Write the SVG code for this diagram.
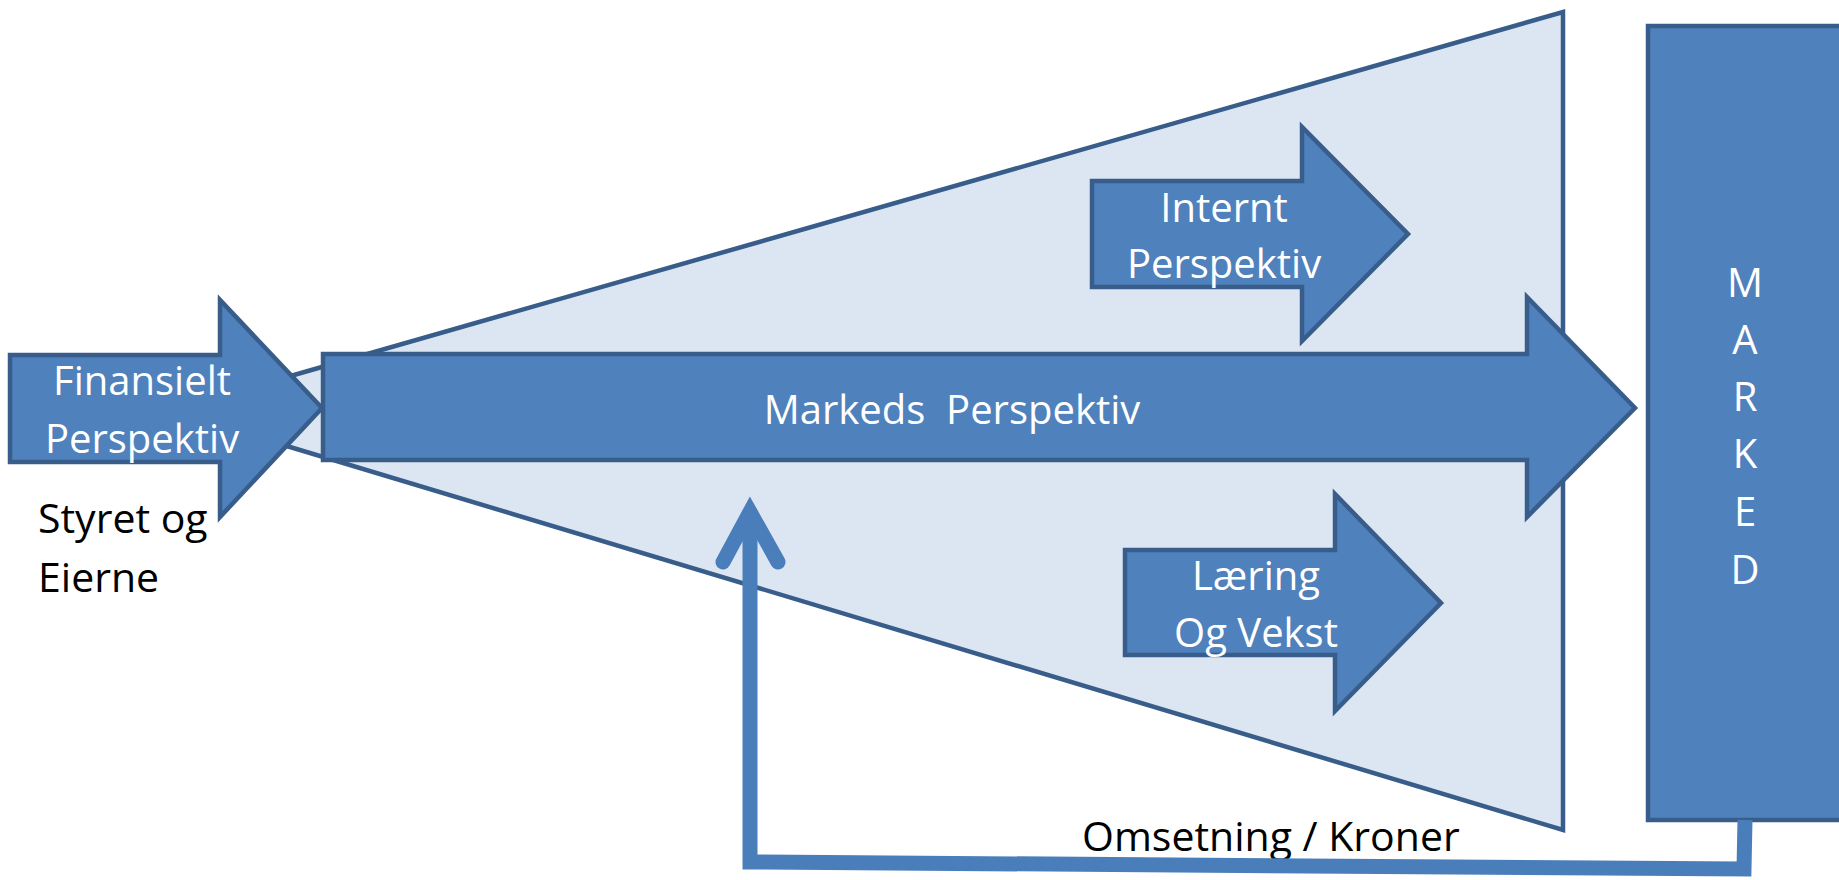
<svg xmlns="http://www.w3.org/2000/svg" width="1839" height="880" viewBox="0 0 1839 880">
<style>
.arrow{fill:#4f81bd;stroke:#385d8a;stroke-width:4.5;stroke-linejoin:miter}
.funnel{fill:#dce6f2;stroke:#385d8a;stroke-width:4.5;stroke-linejoin:miter}
.wt{font-family:"Open Sans","Liberation Sans",sans-serif;font-size:40px;fill:#ffffff;text-anchor:middle}
.bt{font-family:"Open Sans","Liberation Sans",sans-serif;font-size:41px;fill:#000000}
.fb{fill:none;stroke:#4a7ebb;stroke-width:15}
</style>
<g id="funnel">
<polygon class="funnel" points="280,379 1563,12 1563,830 280,444"/>
</g>
<g id="marked">
<rect class="arrow" x="1648" y="26" width="220" height="794"/>
<text class="wt" font-size="42" x="1745" y="297">M</text>
<text class="wt" font-size="42" x="1745" y="354">A</text>
<text class="wt" font-size="42" x="1745" y="411">R</text>
<text class="wt" font-size="42" x="1745" y="468">K</text>
<text class="wt" font-size="42" x="1745" y="526">E</text>
<text class="wt" font-size="42" x="1745" y="584">D</text>
</g>
<g id="internt">
<polygon class="arrow" points="1092,181 1302,181 1302,127 1408,234 1302,341 1302,287 1092,287"/>
<text class="wt" x="1224" y="222">Internt</text>
<text class="wt" x="1224" y="278">Perspektiv</text>
</g>
<g id="laering">
<polygon class="arrow" points="1125,550 1335,550 1335,494 1441,603 1335,711 1335,655 1125,655"/>
<text class="wt" x="1256" y="590">Læring</text>
<text class="wt" x="1256" y="647">Og Vekst</text>
</g>
<g id="markeds">
<polygon class="arrow" points="323,354 1527,354 1527,297 1635,408 1527,517 1527,460 323,460"/>
<text class="wt" x="952" y="424" xml:space="preserve">Markeds  Perspektiv</text>
</g>
<g id="finansielt">
<polygon class="arrow" points="10,355 220,355 220,300 322,408 220,517 220,462 10,462"/>
<text class="wt" x="142" y="395">Finansielt</text>
<text class="wt" x="142" y="453">Perspektiv</text>
</g>
<g id="labels">
<text class="bt" x="38" y="533">Styret og</text>
<text class="bt" x="38" y="592">Eierne</text>
<text class="bt" x="1082" y="851">Omsetning / Kroner</text>
</g>
<g id="connectors">
<polyline class="fb" stroke-linejoin="miter" points="1745,820 1744,869 750,862 750,510"/>
<path class="fb" stroke-linecap="round" stroke-linejoin="miter" d="M723,562 L750,512 L778,562"/>
</g>
</svg>
